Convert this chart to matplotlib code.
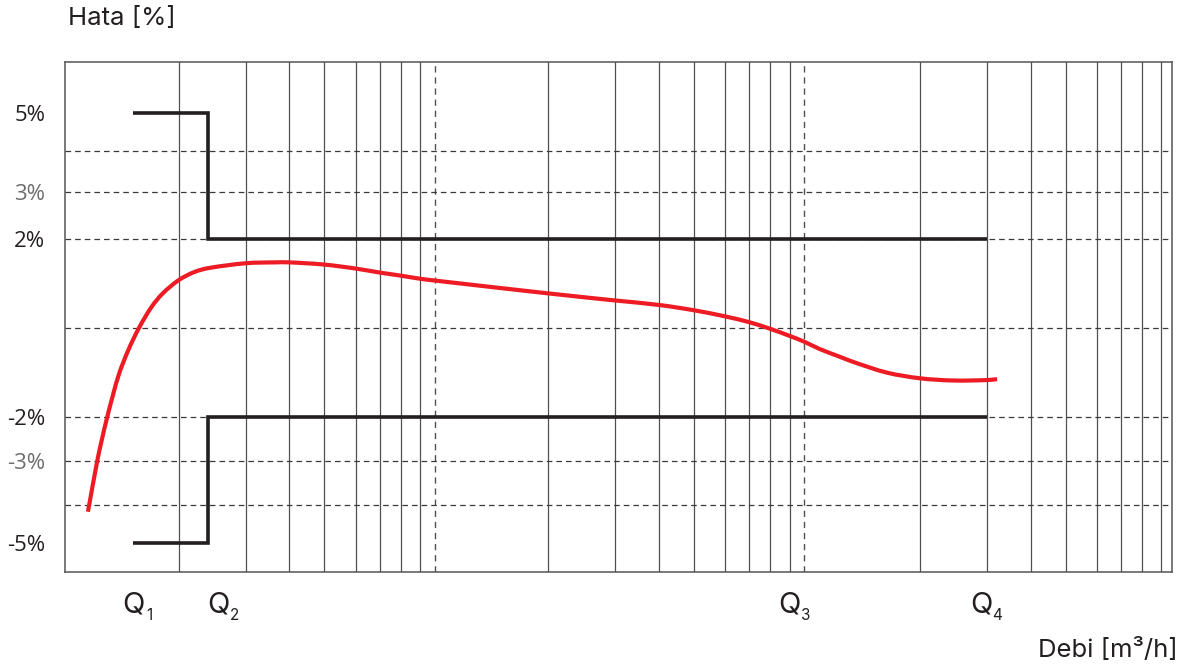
import matplotlib
matplotlib.use("Agg")
import matplotlib.pyplot as plt
import numpy as np
from matplotlib.path import Path
from matplotlib.patches import PathPatch
from matplotlib.transforms import blended_transform_factory, offset_copy

# ---------------- data ----------------
flow_curve = [0.9204, 0.9284, 0.9325, 0.9373, 0.9423, 0.9478, 0.9559, 0.9651, 0.9763, 0.9860,
              1.0, 1.23, 1.44, 2, 2.67, 3, 4, 5, 6, 7, 8, 9,
              10, 20, 30, 40, 50, 60, 70, 80, 90, 91.3, 93.1, 94.2, 97.1,
              100, 150, 200, 223]
error_curve = [-4.17, -3.01, -2.52, -2.0, -1.51, -1.02, -0.49, 0.0, 0.48, 0.78,
               1.08, 1.26, 1.35, 1.46, 1.48, 1.48, 1.43, 1.34, 1.25, 1.18, 1.11, 1.07,
               0.78, 0.62, 0.52, 0.40, 0.26, 0.13, -0.02, -0.18, -0.31, -0.47, -0.65, -0.76, -1.0,
               -1.13, -1.18, -1.17, -1.15]

q_names = ["1", "2", "3", "4"]
q_flows = [0.96, 1.43, 80, 200]
mpe_lower_zone = 5.0   # Q1..Q2
mpe_upper_zone = 2.0   # Q2..Q4

ytick_vals = [5, 3, 2, -2, -3, -5]
ytick_labels = ["5%", "3%", "2%", "-2%", "-3%", "-5%"]
ytick_colors = ["#231F20", "#6D6E70", "#231F20", "#231F20", "#6D6E70", "#231F20"]
hgrid_vals = [4, 3, 2, 0, -2, -3, -4]
vgrid_solid = [1, 2, 3, 4, 5, 6, 7, 8, 10, 20, 30, 40, 50, 60, 70, 80,
               100, 200, 300, 400, 500, 600, 700, 800]
vgrid_dashed = [9, 90]

# ---------------- scales (drawing layout of the diagram) ----------------
x_knot_flow = [0.9, 1, 2, 3, 4, 5, 6, 7, 8, 9,
               10, 20, 30, 40, 50, 60, 70, 80, 90,
               100, 200, 300, 400, 500, 600, 700, 800, 900]
x_knot_pos = [65, 179, 246, 289.5, 324.5, 356, 380, 401, 420.5, 435,
              548.5, 615.5, 659, 694, 725.5, 749.5, 770.5, 790, 804.5,
              920, 987, 1031, 1066, 1097, 1121, 1142, 1161.5, 1176]
y_knot_val = [-5.67, -5, -4, -3, -2, 0, 2, 3, 4, 5, 6.15]
y_knot_pos = [571.5, 543.3, 505.3, 461.3, 417, 328, 239.3, 192.3, 151, 112.7, 62.3]


def fx(v):
    return np.interp(np.asarray(v, dtype=float), x_knot_flow, x_knot_pos)


def ix(p):
    return np.interp(np.asarray(p, dtype=float), x_knot_pos, x_knot_flow)


def fy(v):
    return -np.interp(np.asarray(v, dtype=float), y_knot_val, y_knot_pos)


def iy(u):
    return np.interp(-np.asarray(u, dtype=float), y_knot_pos[::-1], y_knot_val[::-1])


def smooth_path(xs, ys):
    """Cubic Hermite (chord-length) Bezier path through the data points,
    built in scaled space and mapped back to data coordinates."""
    P = np.column_stack([fx(xs), fy(ys)])
    n = len(P)
    d = np.linalg.norm(np.diff(P, axis=0), axis=1)
    T = np.zeros_like(P)
    for i in range(n):
        if i == 0:
            T[i] = (P[1] - P[0]) / d[0]
        elif i == n - 1:
            T[i] = (P[-1] - P[-2]) / d[-1]
        else:
            T[i] = (P[i + 1] - P[i - 1]) / (d[i - 1] + d[i])
    verts = [P[0]]
    codes = [Path.MOVETO]
    for i in range(n - 1):
        c1 = P[i] + T[i] * d[i] / 3
        c2 = P[i + 1] - T[i + 1] * d[i] / 3
        verts += [c1, c2, P[i + 1]]
        codes += [Path.CURVE4] * 3
    V = np.array(verts)
    V = np.column_stack([ix(V[:, 0]), iy(V[:, 1])])
    return Path(V, codes)


W, H = 1190, 672
fig = plt.figure(figsize=(W / 100, H / 100), dpi=100)
ax_l, ax_r, ax_t, ax_b = 64.7, 1172.3, 62.3, 571.5
ax = fig.add_axes([ax_l / W, 1 - ax_b / H, (ax_r - ax_l) / W, (ax_b - ax_t) / H])
ax.set_xscale("function", functions=(fx, ix))
ax.set_yscale("function", functions=(fy, iy))
ax.set_xlim(0.9, float(ix(ax_r)))
ax.set_ylim(-5.67, 6.15)

# grid
for v in vgrid_solid:
    ax.axvline(v, color="#505050", lw=0.9, zorder=1)
for v in vgrid_dashed:
    ax.axvline(v, color="#505050", lw=1.0, ls=(0, (4.5, 3.5)), zorder=1)
for v in hgrid_vals:
    ax.axhline(v, color="#3A3A3A", lw=0.9, ls=(0, (4.5, 3.2)), zorder=1)

# maximum permissible error envelope
env_x = [q_flows[0], q_flows[1], q_flows[1], q_flows[3]]
env_up = [mpe_lower_zone, mpe_lower_zone, mpe_upper_zone, mpe_upper_zone]
env_dn = [-v for v in env_up]
for ys in (env_up, env_dn):
    ax.plot(env_x, ys, color="#231F20", lw=2.6, solid_joinstyle="miter",
            solid_capstyle="butt", zorder=3)

# error curve
ax.add_patch(PathPatch(smooth_path(flow_curve, error_curve), fill=False,
                       edgecolor="#ED1C24", lw=3.0, capstyle="butt",
                       joinstyle="round", zorder=4))

# axes styling
for s in ax.spines.values():
    s.set_color("#555555")
    s.set_linewidth(1.1)
ax.minorticks_off()
ax.set_xticks([])
ax.set_yticks(ytick_vals)
ax.set_yticklabels(ytick_labels, fontsize=16, family="Open Sans")
for lab, c in zip(ax.get_yticklabels(), ytick_colors):
    lab.set_color(c)
ax.tick_params(axis="y", length=0, pad=14)

# Q labels (label text sits slightly right of Q2's step, as in the original)
q_label_shift = [0, 8, 0, -4]   # points
tr = blended_transform_factory(ax.transData, ax.transAxes)
for name, q, sh in zip(q_names, q_flows, q_label_shift):
    main_tr = offset_copy(tr, fig=fig, x=sh, y=0, units="points")
    ax.text(q, -0.065, "Q", transform=main_tr, ha="center", va="center",
            fontsize=21, family="Inter", color="#231F20", clip_on=False)
    sub_tr = offset_copy(tr, fig=fig, x=sh + 11.5, y=-7.5, units="points")
    ax.text(q, -0.065, name, transform=sub_tr, ha="center", va="center",
            fontsize=11, family="Inter", color="#231F20", clip_on=False)

# axis titles
fig.text(68 / W, 1 - 25 / H, "Hata [%]", ha="left", va="baseline",
         fontsize=18.5, family="Inter", color="#231F20")
fig.text(1178 / W, 1 - 657 / H, "Debi [m³/h]", ha="right", va="baseline",
         fontsize=18.5, family="Inter", color="#231F20")

fig.savefig("out.png", dpi=100, facecolor="white")
